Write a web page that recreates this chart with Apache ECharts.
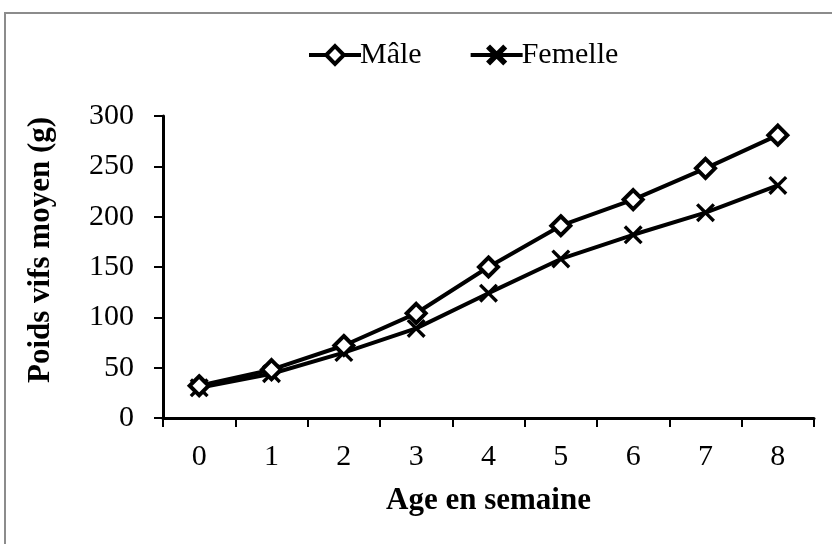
<!DOCTYPE html>
<html>
<head>
<meta charset="utf-8">
<script src="https://cdn.jsdelivr.net/npm/echarts@6/dist/echarts.min.js"></script>
<style>html,body{margin:0;padding:0;background:#fff}#c{width:832px;height:544px}</style>
</head>
<body>
<div id="c"></div>
<script>
var categories = ['0','1','2','3','4','5','6','7','8'];
var maleValues = [32, 48, 72, 104, 150, 191, 217, 248, 281];
var femaleValues = [30, 44, 65, 89, 124, 158, 182, 204, 231];
var seriesNames = ['Mâle', 'Femelle'];
var xTitle = 'Age en semaine';
var yTitle = 'Poids vifs moyen (g)';

var FONT = '"Liberation Serif", "Times New Roman", serif';
var xPath = 'path://M0,2.5 L2.5,0 L10,7.5 L17.5,0 L20,2.5 L12.5,10 L20,17.5 L17.5,20 L10,12.5 L2.5,20 L0,17.5 L7.5,10 Z';

var chart = echarts.init(document.getElementById('c'), null, {renderer: 'canvas'});
chart.setOption({
  animation: false,
  backgroundColor: '#fff',
  graphic: [{
    type: 'rect',
    shape: {x: 5, y: 13, width: 900, height: 600},
    style: {fill: 'none', stroke: '#8c8c8c', lineWidth: 2},
    silent: true
  }],
  legend: {
    top: 35,
    left: 302,
    itemWidth: 52,
    itemHeight: 22,
    itemGap: 47,
    lineStyle: {width: 4},
    textStyle: {fontFamily: FONT, fontSize: 30, color: '#000', padding: [0, 0, 0, -6]},
    data: [
      {name: seriesNames[0], itemStyle: {color: '#fff', borderColor: '#000', borderWidth: 4}},
      {name: seriesNames[1], itemStyle: {color: '#000', borderColor: '#000', borderWidth: 2.5}}
    ]
  },
  grid: {left: 163, right: 18, top: 116, bottom: 126, containLabel: false},
  xAxis: {
    type: 'category',
    data: categories,
    boundaryGap: true,
    name: xTitle,
    nameLocation: 'middle',
    nameGap: 67,
    nameTextStyle: {fontFamily: FONT, fontSize: 31, fontWeight: 'bold', color: '#000'},
    axisLine: {lineStyle: {color: '#000', width: 3}},
    axisTick: {show: true, alignWithLabel: false, length: 9, lineStyle: {color: '#000', width: 2}},
    axisLabel: {fontFamily: FONT, fontSize: 30, color: '#000', margin: 24},
    splitLine: {show: false}
  },
  yAxis: {
    type: 'value',
    min: 0,
    max: 300,
    interval: 50,
    name: yTitle,
    nameLocation: 'middle',
    nameGap: 107,
    nameTextStyle: {fontFamily: FONT, fontSize: 31, fontWeight: 'bold', color: '#000', padding: [0, 0, 0, 34]},
    axisLine: {show: true, lineStyle: {color: '#000', width: 3}},
    axisTick: {show: true, length: 9, lineStyle: {color: '#000', width: 2}},
    axisLabel: {fontFamily: FONT, fontSize: 30, color: '#000', margin: 29},
    splitLine: {show: false}
  },
  series: [{
    name: seriesNames[0],
    type: 'line',
    data: maleValues,
    symbol: 'diamond',
    symbolSize: 19,
    lineStyle: {color: '#000', width: 4},
    itemStyle: {color: '#fff', borderColor: '#000', borderWidth: 4},
    z: 3
  }, {
    name: seriesNames[1],
    type: 'line',
    data: femaleValues,
    symbol: xPath,
    symbolSize: 19,
    lineStyle: {color: '#000', width: 4},
    itemStyle: {color: '#000', borderWidth: 0},
    z: 2
  }]
});
</script>
</body>
</html>
